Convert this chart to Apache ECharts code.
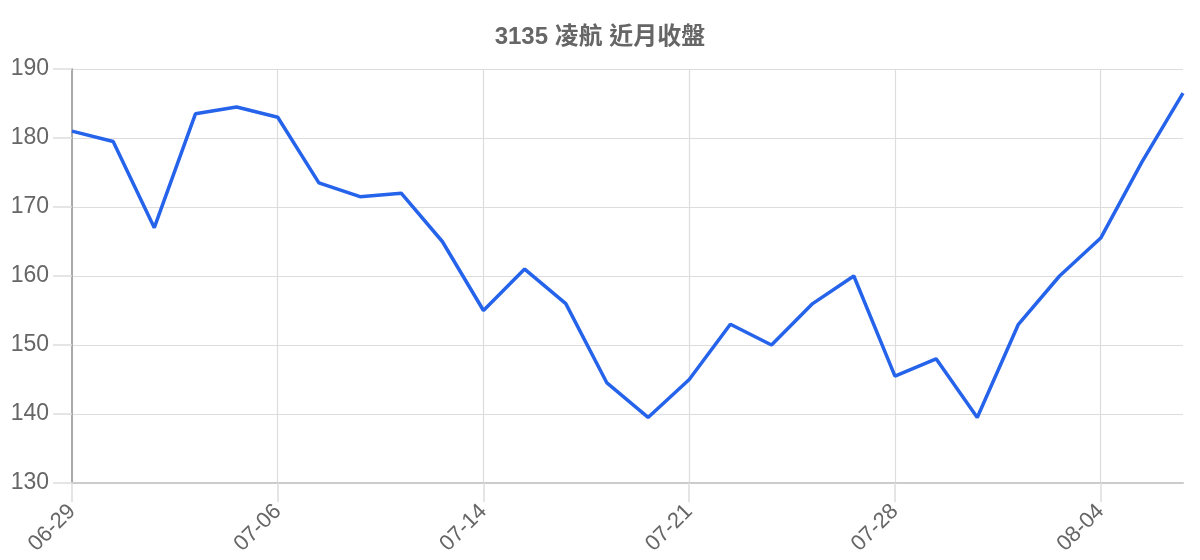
<!DOCTYPE html>
<html lang="zh-TW">
<head>
    <meta charset="UTF-8">
    <title>3135 凌航 近月收盤</title>
    <script src="https://cdn.jsdelivr.net/npm/echarts@6/dist/echarts.min.js"></script>
    <style>
        html, body { margin: 0; padding: 0; background: #fff; }
        #main { width: 1200px; height: 560px; }
    </style>
</head>
<body>
<div id="main"></div>
<script>
    var dates = ['06-29','06-30','07-01','07-02','07-03','07-06','07-07','07-08','07-09','07-13',
        '07-14','07-15','07-16','07-17','07-20','07-21','07-22','07-23','07-24','07-27',
        '07-28','07-29','07-30','07-31','08-03','08-04','08-05','08-06'];
    var closes = [181, 179.5, 167, 183.5, 184.5, 183, 173.5, 171.5, 172, 165,
        155, 161, 156, 144.5, 139.5, 145, 153, 150, 156, 160,
        145.5, 148, 139.5, 153, 160, 165.5, 176.5, 186.5];
    var yMin = 130, yMax = 190, yStep = 10;

    var fontFam = '"Liberation Sans", Arial, "Noto Sans CJK TC", sans-serif';
    var myChart = echarts.init(document.getElementById('main'));
    var option = {
        animation: false,
        title: {
            text: '3135 凌航 近月收盤',
            left: 'center',
            top: 20,
            textStyle: { color: '#666', fontSize: 24, fontWeight: 'bold', fontFamily: fontFam }
        },
        grid: { left: 72, right: 17, top: 69, bottom: 77 },
        xAxis: {
            type: 'category',
            data: dates,
            boundaryGap: false,
            axisLine: { lineStyle: { color: '#ccc', width: 2 } },
            axisTick: { interval: 4, length: 19, lineStyle: { color: '#ddd', width: 1.5 } },
            axisLabel: {
                interval: 4, rotate: 45, color: '#666', fontSize: 22,
                fontFamily: fontFam, margin: 25
            },
            splitLine: { show: true, interval: 4, lineStyle: { color: '#ddd', width: 1.2 } }
        },
        yAxis: {
            type: 'value',
            min: yMin, max: yMax, interval: yStep,
            axisLine: { show: true, lineStyle: { color: '#aaa', width: 2 } },
            axisTick: { show: true, length: 19, lineStyle: { color: '#ddd', width: 1.5 } },
            axisLabel: { color: '#666', fontSize: 23, fontFamily: fontFam, margin: 23 },
            splitLine: { lineStyle: { color: '#ddd', width: 1.2 } }
        },
        series: [{
            name: '收盤',
            type: 'line',
            data: closes,
            showSymbol: false,
            lineStyle: { color: '#2563eb', width: 3.5 },
            itemStyle: { color: '#2563eb' }
        }]
    };
    myChart.setOption(option);
</script>
</body>
</html>
